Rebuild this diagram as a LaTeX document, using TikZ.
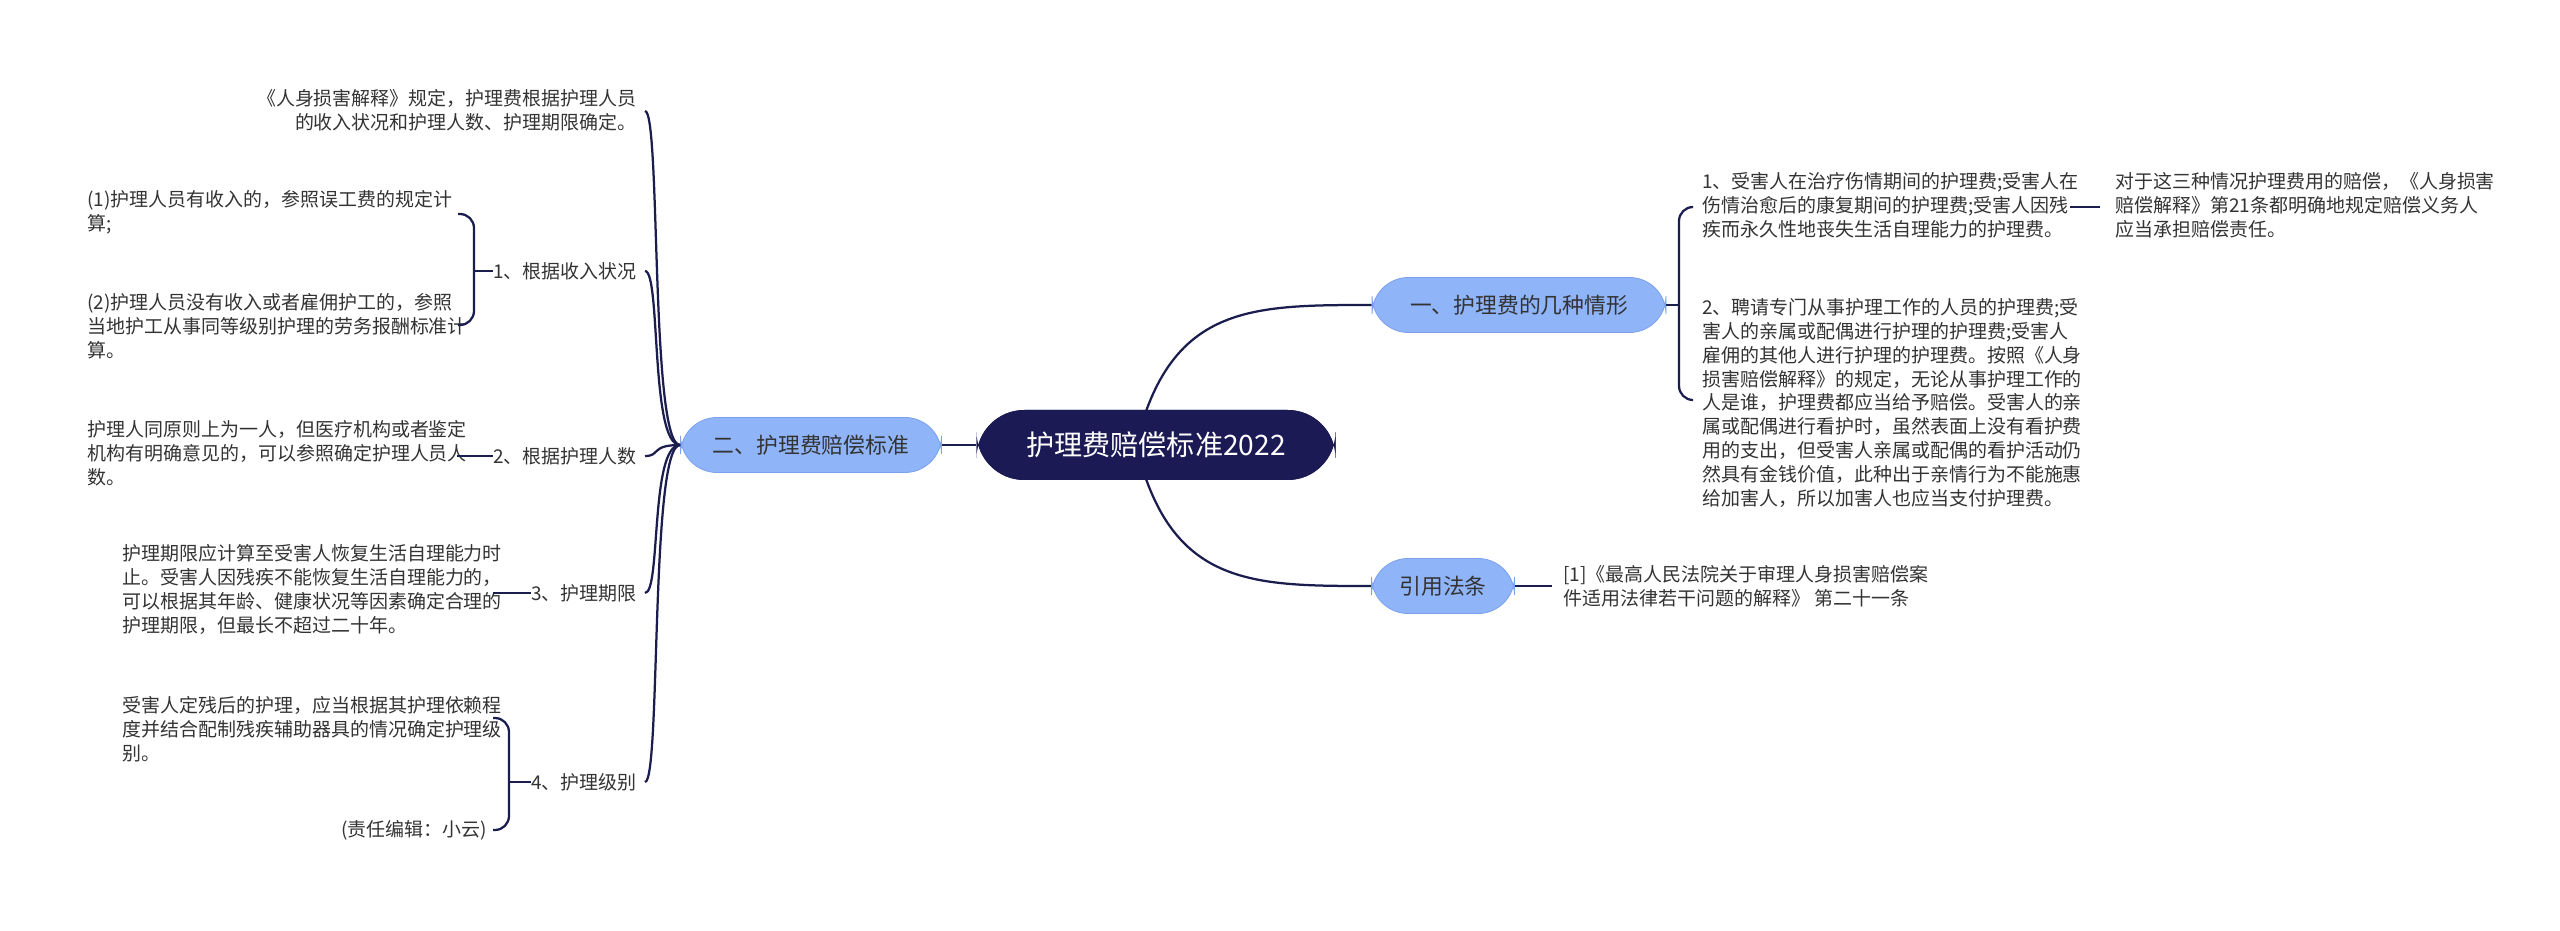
\documentclass[tikz,border=0pt]{standalone}
\usepackage{fontspec}
\setmainfont{Noto Sans CJK SC}
\begin{document}
\begin{tikzpicture}[x=0.025cm,y=-0.025cm,
  conn/.style={draw=lineblue,line width=1.6pt},
  leaf/.style={inner sep=0pt,font=\fontsize{13.5}{17}\selectfont,text=black!80,align=left},
  branch/.style={fill=nodeblue,draw=nodeedge,line width=0.6pt,rounded corners=26,minimum height=55*0.025cm,inner xsep=14pt,font=\fontsize{15.5}{18}\selectfont,text=black!80}]
\definecolor{lineblue}{HTML}{1B1D4F}
\definecolor{nodeblue}{HTML}{8FB4F8}
\definecolor{nodeedge}{HTML}{7CA2EE}
\definecolor{navy}{HTML}{1B1A55}
\useasboundingbox (0,0) rectangle (2560,931);
% nodes
\node[fill=navy,rounded corners=34,minimum width=359*0.025cm,minimum height=70*0.025cm,text=white,font=\fontsize{20}{24}\selectfont] (C) at (1156,445) {护理费赔偿标准2022};
\node[branch,minimum width=294*0.025cm] (R1) at (1519,305) {一、护理费的几种情形};
\node[branch,minimum width=143*0.025cm] (R2) at (1443,586) {引用法条};
\node[branch,minimum width=261*0.025cm] (L) at (811,445) {二、护理费赔偿标准};
% right leaves
\node[leaf,anchor=north west] (r11) at (1702,172) {1、受害人在治疗伤情期间的护理费;受害人在\\伤情治愈后的康复期间的护理费;受害人因残\\疾而永久性地丧失生活自理能力的护理费。};
\node[leaf,anchor=north west] (r12) at (1702,298) {2、聘请专门从事护理工作的人员的护理费;受\\害人的亲属或配偶进行护理的护理费;受害人\\雇佣的其他人进行护理的护理费。按照《人身\\损害赔偿解释》的规定，无论从事护理工作的\\人是谁，护理费都应当给予赔偿。受害人的亲\\属或配偶进行看护时，虽然表面上没有看护费\\用的支出，但受害人亲属或配偶的看护活动仍\\然具有金钱价值，此种出于亲情行为不能施惠\\给加害人，所以加害人也应当支付护理费。};
\node[leaf,anchor=north west] (r111) at (2115,172) {对于这三种情况护理费用的赔偿，《人身损害\\赔偿解释》第21条都明确地规定赔偿义务人\\应当承担赔偿责任。};
\node[leaf,anchor=north west] (r21) at (1563,565) {[1]《最高人民法院关于审理人身损害赔偿案\\件适用法律若干问题的解释》 第二十一条};
% left labels
\node[leaf,anchor=east,align=right] (t0) at (637,110) {《人身损害解释》规定，护理费根据护理人员\\的收入状况和护理人数、护理期限确定。};
\node[leaf,anchor=east] (l1) at (637,271) {1、根据收入状况};
\node[leaf,anchor=east] (l2) at (637,456) {2、根据护理人数};
\node[leaf,anchor=east] (l3) at (637,593) {3、护理期限};
\node[leaf,anchor=east] (l4) at (637,782) {4、护理级别};
\node[leaf,anchor=north west] (l11) at (87,190) {(1)护理人员有收入的，参照误工费的规定计\\算;};
\node[leaf,anchor=north west] (l12) at (87,293) {(2)护理人员没有收入或者雇佣护工的，参照\\当地护工从事同等级别护理的劳务报酬标准计\\算。};
\node[leaf,anchor=north west] (l21) at (87,420) {护理人同原则上为一人，但医疗机构或者鉴定\\机构有明确意见的，可以参照确定护理人员人\\数。};
\node[leaf,anchor=north west] (l31) at (122,544) {护理期限应计算至受害人恢复生活自理能力时\\止。受害人因残疾不能恢复生活自理能力的，\\可以根据其年龄、健康状况等因素确定合理的\\护理期限，但最长不超过二十年。};
\node[leaf,anchor=north west] (l41) at (122,696) {受害人定残后的护理，应当根据其护理依赖程\\度并结合配制残疾辅助器具的情况确定护理级\\别。};
\node[leaf,anchor=east] (l42) at (487,830) {(责任编辑：小云)};
% connectors
\begin{scope}[on background layer/.style={}]
\end{scope}
\draw[conn] (C.west) -- (L.east);
\draw[conn] (C.center) ++(-20,0) .. controls (1170,305) and (1250,305) .. (R1.west);
\draw[conn] (C.center) ++(-20,0) .. controls (1170,586) and (1250,586) .. (R2.west);
\node[fill=navy,rounded corners=34,minimum width=359*0.025cm,minimum height=70*0.025cm,text=white,font=\fontsize{20}{24}\selectfont] at (1156,445) {护理费赔偿标准2022};
\draw[conn] (R1.east) -- (1679,305);
\draw[conn,rounded corners=10] (1692,207) -- (1679,207) -- (1679,400) -- (1692,400);
\draw[conn] (2070,207) -- (2100,207);
\draw[conn] (R2.east) -- (1552,586);
\foreach \n/\y in {t0/111,l1/271,l2/456,l3/593,l4/782}
  \draw[conn] (L.west) .. controls (650,445) and (661,\y) .. (645,\y);
\draw[conn,rounded corners=10] (458,214) -- (474,214) -- (474,325) -- (458,325);
\draw[conn] (474,271) -- (l1.west);
\draw[conn] (457,456) -- (l2.west);
\draw[conn] (493,593) -- (l3.west);
\draw[conn,rounded corners=10] (493,718) -- (509,718) -- (509,830) -- (493,830);
\draw[conn] (509,782) -- (l4.west);
\end{tikzpicture}
\end{document}
